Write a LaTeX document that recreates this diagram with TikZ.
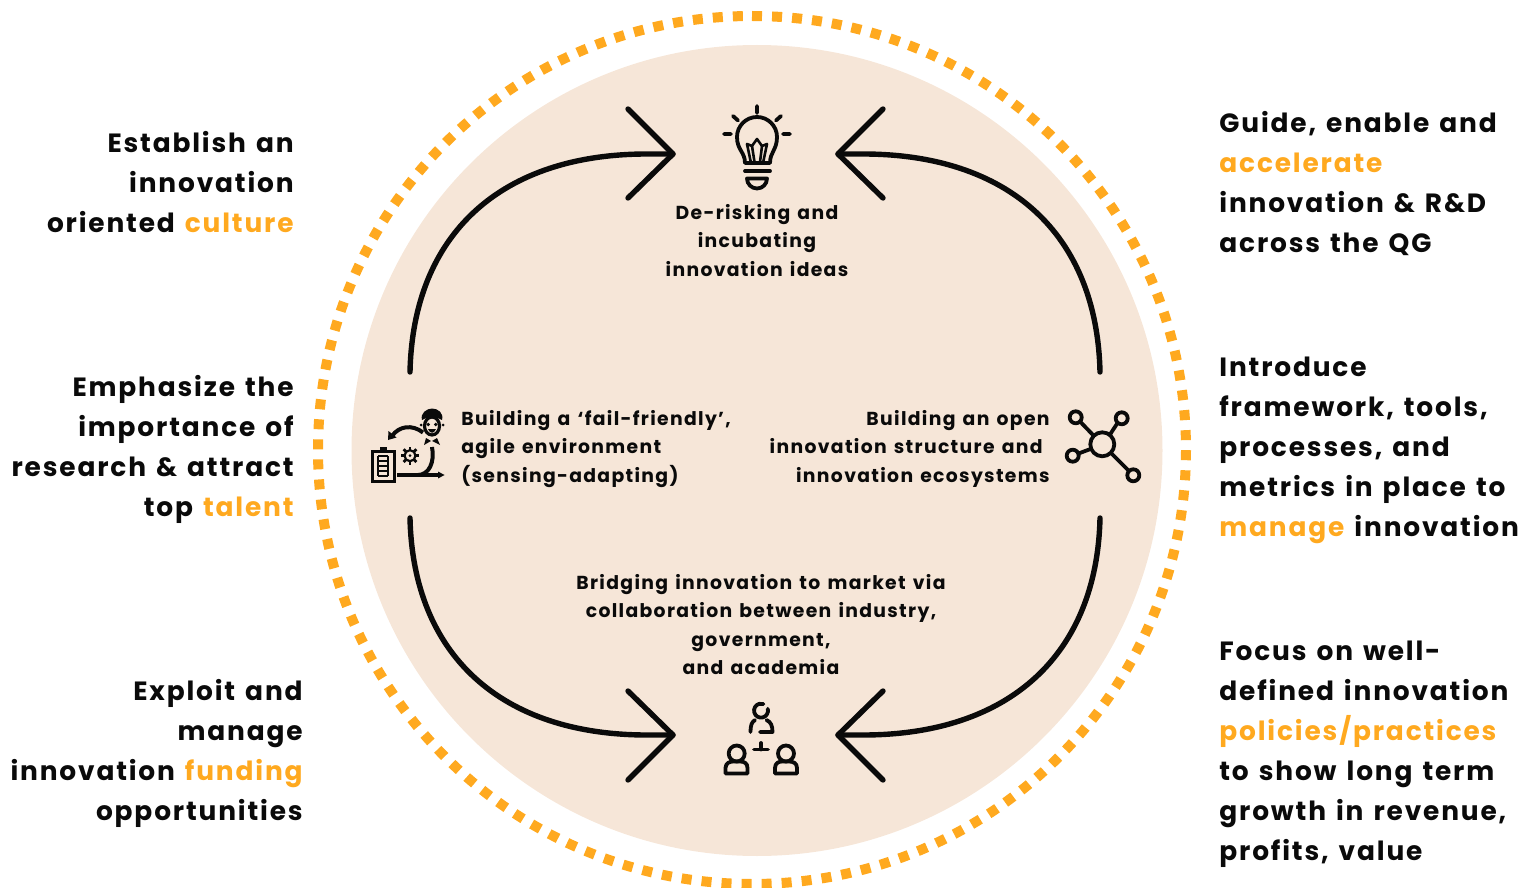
\documentclass[tikz,border=0pt]{standalone}
\usepackage{fontspec}
\setmainfont[LetterSpace=7,WordSpace=1.35]{Poppins Bold}
\definecolor{orng}{HTML}{FFA91F}
\definecolor{peach}{HTML}{F6E6D8}
\definecolor{ink}{HTML}{0A0A0A}
\newcommand{\hl}[1]{\textcolor{orng}{#1}}
\tikzset{
 px/.style={x=0.5pt,y=-0.5pt},
 bigL/.style={font=\fontsize{13.2}{20}\selectfont,align=right,anchor=north east,inner sep=0,text=ink},
 bigR/.style={font=\fontsize{13.2}{20}\selectfont,align=left,anchor=north west,inner sep=0,text=ink},
 small/.style={font=\fontsize{9.4}{14.2}\selectfont,inner sep=0,text=ink},
 flow/.style={line width=2.7pt,ink,line cap=round,line join=round},
 ico/.style={line width=1.9pt,ink,line cap=round,line join=round},
 icothin/.style={line width=1.3pt,ink,line cap=round,line join=round}
}
\begin{document}
\begin{tikzpicture}[px]
\useasboundingbox (0,0) rectangle (1528,888);
\fill[peach] (757,450.5) circle (405.5);
\draw[orng,line width=5pt,dash pattern=on 5pt off 5.03pt] (752,16) arc[start angle=-90,end angle=270,radius=434];
% coordinates
\foreach \n/\x/\y in {tl/410/372,tlt/673/154,tla/628/109,tlb/628/198,
 tr/1100/372,trt/838/154,tra/883/109,trb/883/198,
 bl/410/518,blt/673/735,bla/628/691,blb/628/780,
 br/1100/518,brt/838/735,bra/883/691,brb/883/780}{\coordinate (\n) at (\x,\y);}
\draw[flow] (tl) .. controls (413,235) and (500,153) .. (650,154) -- (tlt);
\draw[flow] (tla) -- (tlt) -- (tlb);
\draw[flow] (tr) .. controls (1097,235) and (1010,153) .. (860,154) -- (trt);
\draw[flow] (tra) -- (trt) -- (trb);
\draw[flow] (bl) .. controls (413,654) and (500,736) .. (650,735) -- (blt);
\draw[flow] (bla) -- (blt) -- (blb);
\draw[flow] (br) .. controls (1097,654) and (1010,736) .. (860,735) -- (brt);
\draw[flow] (bra) -- (brt) -- (brb);
% left texts
\node[bigL] (l1) at (294,131) {Establish an\\innovation\\oriented \hl{culture}};
\node[bigL] (l2) at (294,375) {Emphasize the\\importance of\\research \& attract\\top \hl{talent}};
\node[bigL] (l3) at (303,679) {Exploit and\\manage\\innovation \hl{funding}\\opportunities};
% right texts
\node[bigR] (r1) at (1219,111) {Guide, enable and\\\hl{accelerate}\\innovation \& R\&D\\across the QG};
\node[bigR] (r2) at (1219,357) {Introduce\\framework, tools,\\processes, and\\metrics in place to\\\hl{manage} innovation};
\node[bigR] (r3) at (1219,641) {Focus on well-\\defined innovation\\\hl{policies/practices}\\to show long term\\growth in revenue,\\profits, value};
% center texts
\node[small,align=center,anchor=north] (c1) at (757,204) {De-risking and\\incubating\\innovation ideas};
\node[small,align=left,anchor=north west] (c2) at (461,410) {Building a ‘fail-friendly’,\\agile environment\\(sensing-adapting)};
\node[small,align=right,anchor=north east] (c3) at (1050,410) {Building an open\\innovation structure and\rule{3.5pt}{0pt}\\innovation ecosystems};
\node[small,align=center,anchor=north] (c4) at (761,574) {Bridging innovation to market via\\collaboration between industry,\\government,\\and academia};
% bulb icon
\draw[ico] (745,163) .. controls (745,152) and (737,150) .. (737,137) arc[start angle=180,end angle=360,radius=20] .. controls (777,150) and (770,152) .. (770,163) -- cycle;
\draw[icothin] (751,163) -- (747,144) -- (752,146) -- (757,139) -- (762,146) -- (767,144) -- (763,163);
\draw[icothin] (752,146) -- (754.5,162) (762,146) -- (760,162);
\draw[ico] (745,171) -- (770,171);
\draw[ico] (747,178.5) -- (767,178.5) arc[start angle=0,end angle=180,radius=10] -- cycle;
\draw[ico] (757,106) -- (757,113) (724,134) -- (731,134) (783,134) -- (790,134) (733,116) -- (738,120.5) (781,116) -- (776,120.5);
% network icon
\draw[ico] (1102.3,444.3) circle (12);
\draw[ico] (1075.7,417.3) circle (6);
\draw[ico] (1121.7,418.3) circle (6);
\draw[ico] (1072.7,455.7) circle (6);
\draw[ico] (1133.3,475.3) circle (6);
\draw[ico] (1080,421.5) -- (1093.5,435.5) (1117.5,423) -- (1110,434.5) (1078.5,453.5) -- (1090.5,449) (1111,453) -- (1129,471);
% people icon
\draw[ico] (767.8,708.8) arc[start angle=-15,end angle=290,radius=7];
\draw[ico] (755,720) .. controls (751.5,722) and (750.5,726) .. (750.5,732);
\draw[ico] (766.5,720) .. controls (771,722) and (772.5,726) .. (772.5,732) -- (760,732);
\draw[ico] (736.7,753.5) circle (8);
\draw[ico] (786,753.5) circle (8);
\draw[ico] (725.5,773.5) -- (725.5,768) .. controls (725.5,763) and (730,761.5) .. (733,761.5) -- (740,761.5) .. controls (744,761.5) and (747.5,763) .. (747.5,768) -- (747.5,773.5) -- cycle;
\draw[ico] (775,773.5) -- (775,768) .. controls (775,763) and (779,761.5) .. (782,761.5) -- (789,761.5) .. controls (793,761.5) and (797,763) .. (797,768) -- (797,773.5) -- cycle;
\draw[ico] (754,749.5) -- (768,749.5) (761,743) -- (761,749.5);
% adaptive icon
\draw[line width=1.5pt,ink] (372.5,451) rectangle (394,481.5);
\fill[ink] (379.5,446.5) rectangle (386.5,452.5);
\foreach \yy in {456,461,466,471,476}{\draw[line width=1.1pt,ink] (378,\yy) -- (388,\yy);}
\draw[line width=0.8pt,ink] (378,456) -- (378,476) (388,456) -- (388,476);
\foreach \a in {0,45,...,315}{\draw[line width=1.4pt,ink] (410,455.7) ++(\a:5.5) -- ++(\a:3.5);}
\draw[line width=1.1pt,ink] (410,455.7) circle (5.5);
\fill[ink] (410,455.7) circle (1.5);
\draw[line width=2pt,ink] (397,475) -- (440,475);
\fill[ink] (444.5,475) -- (438,471.5) -- (438,478.5) -- cycle;
\draw[line width=2pt,ink] (418,475) .. controls (429,475) and (435,462) .. (432,447);
\draw[line width=2pt,ink] (423,432.5) .. controls (412,424) and (399,426) .. (392,436);
\fill[ink] (388,440) -- (388.5,431) -- (396.5,437.5) -- cycle;
% engineer
\draw[line width=1.6pt,ink,fill=peach] (432,426) ellipse (7.5 and 9);
\fill[ink] (422,420) .. controls (420,413) and (427,408.5) .. (432,408.5) .. controls (438,408.5) and (444,413) .. (442,420) .. controls (436,416) and (428,416) .. (422,420) -- cycle;
\fill[ink] (428.3,424.5) circle (1.9) (435.7,424.5) circle (1.9);
\fill[ink] (428,429) .. controls (430,434) and (434,434) .. (436,429) -- cycle;
\fill[ink] (421,425) circle (1.5) (443,425) circle (1.5);
\fill[ink] (426,438) -- (431,441) -- (424,445) -- cycle (437,438) -- (432,441) -- (440,445) -- cycle;
\end{tikzpicture}
\end{document}
